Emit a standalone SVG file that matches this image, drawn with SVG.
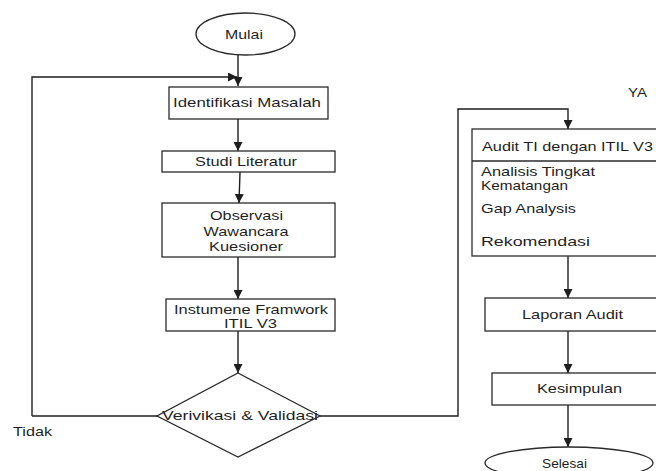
<svg xmlns="http://www.w3.org/2000/svg" width="656" height="471" viewBox="0 0 656 471">
  <style>
    .shape { fill: #ffffff; stroke: #2a2a2a; stroke-width: 1.3; }
    .edge { fill: none; stroke: #1e1e1e; stroke-width: 1.4; }
    text { font-family: "Liberation Sans", Arial, sans-serif; font-size: 12.5px; fill: #1f1f1f; }
    .c { text-anchor: middle; }
  </style>
  <defs>
    <marker id="arrow" viewBox="0 0 10 10" refX="10" refY="5" markerWidth="9" markerHeight="9" markerUnits="userSpaceOnUse" orient="auto">
      <path d="M0,0 L10,5 L0,10 Z" fill="#1e1e1e"/>
    </marker>
    <clipPath id="lineClip">
      <rect x="-20" y="-12" width="120" height="15"/>
    </clipPath>
  </defs>

  <!-- connectors -->
  <g id="connectors">
    <path class="edge" d="M238,55 L238,86" marker-end="url(#arrow)"/>
    <path class="edge" d="M32,416 L32,77 L237,77" marker-end="url(#arrow)"/>
    <path class="edge" d="M238,119 L238,151" marker-end="url(#arrow)"/>
    <path class="edge" d="M240,172 L239,203" marker-end="url(#arrow)"/>
    <path class="edge" d="M238,257 L238,299" marker-end="url(#arrow)"/>
    <path class="edge" d="M238,331 L238,373" marker-end="url(#arrow)"/>
    <path class="edge" d="M157,416 L32,416"/>
    <path class="edge" d="M320,416 L458,416 L458,109 L568,109 L568,129" marker-end="url(#arrow)"/>
    <path class="edge" d="M568,256 L568,298" marker-end="url(#arrow)"/>
    <path class="edge" d="M568,331 L568,373" marker-end="url(#arrow)"/>
    <path class="edge" d="M568,405 L568,447" marker-end="url(#arrow)"/>
  </g>

  <!-- text is drawn in a horizontally widened frame: translate to anchor, then scale(1.3,1) -->
  <g id="mulai">
    <ellipse class="shape" cx="245.5" cy="34" rx="49.5" ry="21"/>
    <text class="c" transform="translate(244,38.5) scale(1.3,1)" textLength="29.2" lengthAdjust="spacingAndGlyphs">Mulai</text>
  </g>

  <g id="identifikasi">
    <rect class="shape" x="169" y="87" width="159" height="32"/>
    <text class="c" transform="translate(247,107) scale(1.3,1)" textLength="113.8" lengthAdjust="spacingAndGlyphs">Identifikasi Masalah</text>
  </g>

  <g id="studi">
    <rect class="shape" x="162" y="151" width="173" height="21"/>
    <text class="c" transform="translate(246,166) scale(1.3,1)" textLength="78.5" lengthAdjust="spacingAndGlyphs">Studi Literatur</text>
  </g>

  <g id="observasi">
    <rect class="shape" x="162" y="203" width="173" height="54"/>
    <text class="c" transform="translate(246.5,220) scale(1.3,1)" textLength="56.2" lengthAdjust="spacingAndGlyphs">Observasi</text>
    <text class="c" transform="translate(246,235.5) scale(1.3,1)" textLength="65.4" lengthAdjust="spacingAndGlyphs">Wawancara</text>
    <text class="c" transform="translate(246,251) scale(1.3,1)" textLength="56.9" lengthAdjust="spacingAndGlyphs">Kuesioner</text>
  </g>

  <g id="instrumen">
    <rect class="shape" x="166" y="299" width="169" height="32"/>
    <text class="c" transform="translate(251,313.5) scale(1.3,1)" textLength="118.5" lengthAdjust="spacingAndGlyphs">Instumene Framwork</text>
    <text class="c" transform="translate(250.5,328) scale(1.3,1)" textLength="40.8" lengthAdjust="spacingAndGlyphs">ITIL V3</text>
  </g>

  <g id="verifikasi">
    <polygon class="shape" points="238,373 320,416 238,457 157,416"/>
    <text class="c" transform="translate(240,420) scale(1.3,1)" textLength="120" lengthAdjust="spacingAndGlyphs">Verivikasi &amp; Validasi</text>
  </g>

  <g id="label-tidak">
    <text transform="translate(13,436) scale(1.3,1)" textLength="30" lengthAdjust="spacingAndGlyphs">Tidak</text>
  </g>

  <g id="label-ya">
    <text transform="translate(628,97) scale(1.3,1)" textLength="14.6" lengthAdjust="spacingAndGlyphs">YA</text>
  </g>

  <g id="audit">
    <rect class="shape" x="472" y="129" width="190" height="127"/>
    <line class="shape" x1="472" y1="161" x2="662" y2="161"/>
    <text transform="translate(482,151) scale(1.3,1)" textLength="131.5" lengthAdjust="spacingAndGlyphs">Audit TI dengan ITIL V3</text>
    <text transform="translate(481,176) scale(1.3,1)" textLength="87.7" lengthAdjust="spacingAndGlyphs">Analisis Tingkat</text>
    <g transform="translate(481,190) scale(1.3,1)" clip-path="url(#lineClip)">
      <text textLength="66.9" lengthAdjust="spacingAndGlyphs">Kematangan</text>
    </g>
    <text transform="translate(481,213) scale(1.3,1)" textLength="73" lengthAdjust="spacingAndGlyphs">Gap Analysis</text>
    <text transform="translate(481,246) scale(1.3,1)" textLength="83.8" lengthAdjust="spacingAndGlyphs">Rekomendasi</text>
  </g>

  <g id="laporan">
    <rect class="shape" x="485" y="298" width="177" height="33"/>
    <text class="c" transform="translate(572.5,319) scale(1.3,1)" textLength="77.7" lengthAdjust="spacingAndGlyphs">Laporan Audit</text>
  </g>

  <g id="kesimpulan">
    <rect class="shape" x="492" y="373" width="170" height="32"/>
    <text class="c" transform="translate(579.5,393) scale(1.3,1)" textLength="65.4" lengthAdjust="spacingAndGlyphs">Kesimpulan</text>
  </g>

  <g id="selesai">
    <ellipse class="shape" cx="569" cy="463" rx="84" ry="16"/>
    <text class="c" transform="translate(564.5,468) scale(1.3,1)" textLength="34.6" lengthAdjust="spacingAndGlyphs">Selesai</text>
  </g>
</svg>
